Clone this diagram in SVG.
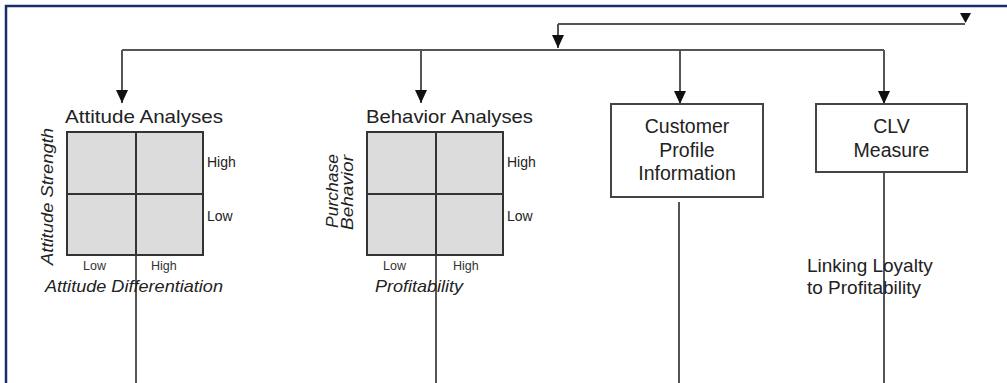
<svg xmlns="http://www.w3.org/2000/svg" width="1007" height="383" viewBox="0 0 1007 383">
  <style>
    .frame { stroke: #1b2c6b; stroke-width: 2.5; fill: none; }
    .wire { stroke: #555; stroke-width: 2; fill: none; }
    .box { fill: #fff; stroke: #444; stroke-width: 2; }
    .grid { fill: #dcdcdc; stroke: #333; stroke-width: 2; }
    .gline { stroke: #333; stroke-width: 2; }
    text { font-family: "Liberation Sans", Arial, sans-serif; fill: #222; }
    .title { font-size: 19px; }
    .lbl { font-size: 14px; }
    .tick { font-size: 12.5px; fill: #333; }
    .axis { font-size: 17px; font-style: italic; }
    .node { font-size: 19.5px; text-anchor: middle; }
    .note { font-size: 19px; }
  </style>
  <defs>
    <!-- solid arrowhead, drawn along +x so orient="auto" follows the line -->
    <marker id="arr" markerUnits="userSpaceOnUse" markerWidth="14" markerHeight="12" viewBox="0 0 14 12" refX="13" refY="6" orient="auto">
      <path d="M0,0 L13,6 L0,12 Z" fill="#111"/>
    </marker>
  </defs>

  <rect width="1007" height="383" fill="#fff"/>
  <!-- outer frame: top and left edges -->
  <path class="frame" d="M6,383 V6 H1007"/>

  <!-- connectors -->
  <g id="connectors">
    <path class="wire" d="M558,24 H965"/>
    <path d="M960,13 L971,13 L965.5,23 Z" fill="#111"/>
    <path class="wire" d="M558,24 V48" marker-end="url(#arr)"/>
    <path class="wire" d="M122,50 H884"/>
    <path class="wire" d="M122,50 V103" marker-end="url(#arr)"/>
    <path class="wire" d="M421,50 V103" marker-end="url(#arr)"/>
    <path class="wire" d="M680,50 V104" marker-end="url(#arr)"/>
    <path class="wire" d="M884,50 V104" marker-end="url(#arr)"/>
    <path class="wire" d="M136,255 V383"/>
    <path class="wire" d="M436,255 V383"/>
    <path class="wire" d="M679,202 V383"/>
    <path class="wire" d="M884,172 V383"/>
  </g>

  <!-- attitude analyses matrix -->
  <g id="attitude">
    <text class="title" x="65" y="123" textLength="158" lengthAdjust="spacingAndGlyphs">Attitude Analyses</text>
    <rect class="grid" x="67" y="132" width="136" height="123"/>
    <line class="gline" x1="136" y1="132" x2="136" y2="255"/>
    <line class="gline" x1="67" y1="194" x2="203" y2="194"/>
    <text class="lbl" x="207" y="167">High</text>
    <text class="lbl" x="207" y="221">Low</text>
    <text class="tick" x="83" y="270">Low</text>
    <text class="tick" x="151" y="270">High</text>
    <text class="axis" x="45" y="292" textLength="178" lengthAdjust="spacingAndGlyphs">Attitude Differentiation</text>
    <text class="axis" transform="translate(53,265) rotate(-90)" textLength="137" lengthAdjust="spacingAndGlyphs">Attitude Strength</text>
  </g>

  <!-- behavior analyses matrix -->
  <g id="behavior">
    <text class="title" x="366" y="123" textLength="167" lengthAdjust="spacingAndGlyphs">Behavior Analyses</text>
    <rect class="grid" x="367" y="132" width="136" height="123"/>
    <line class="gline" x1="436" y1="132" x2="436" y2="255"/>
    <line class="gline" x1="367" y1="194" x2="503" y2="194"/>
    <text class="lbl" x="507" y="167">High</text>
    <text class="lbl" x="507" y="221">Low</text>
    <text class="tick" x="383" y="270">Low</text>
    <text class="tick" x="453" y="270">High</text>
    <text class="axis" x="375" y="292" textLength="88" lengthAdjust="spacingAndGlyphs">Profitability</text>
    <text class="axis" transform="translate(338,228) rotate(-90)" textLength="74" lengthAdjust="spacingAndGlyphs">Purchase</text>
    <text class="axis" transform="translate(353,230) rotate(-90)" textLength="75" lengthAdjust="spacingAndGlyphs">Behavior</text>
  </g>

  <!-- customer profile box -->
  <g id="customer-profile">
    <rect class="box" x="611" y="104" width="152" height="93"/>
    <text class="node" x="687" y="133">Customer</text>
    <text class="node" x="687" y="157">Profile</text>
    <text class="node" x="687" y="180">Information</text>
  </g>

  <!-- CLV box -->
  <g id="clv">
    <rect class="box" x="816" y="104" width="151" height="68"/>
    <text class="node" x="891.5" y="133">CLV</text>
    <text class="node" x="891.5" y="157">Measure</text>
  </g>

  <!-- link note -->
  <g id="linking-note">
    <text class="note" x="807" y="272">Linking Loyalty</text>
    <text class="note" x="807" y="294">to Profitability</text>
  </g>
</svg>
